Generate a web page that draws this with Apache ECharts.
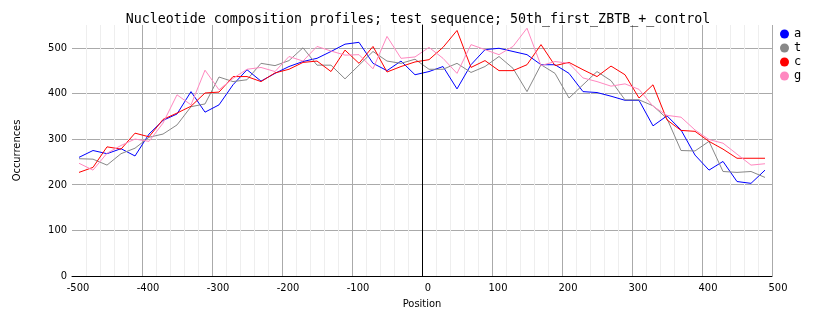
<!DOCTYPE html>
<html>
<head>
<meta charset="utf-8">
<script src="https://cdn.jsdelivr.net/npm/echarts@6/dist/echarts.min.js"></script>
<style>
  html, body { margin: 0; padding: 0; background: #ffffff; }
  #chart { width: 828px; height: 328px; }
</style>
</head>
<body>
<div id="chart"></div>
<script>
// Window positions (bp, centre of each 20 bp bin)
const positions = [
  -490, -470, -450, -430, -410, -390, -370, -350, -330, -310,
  -290, -270, -250, -230, -210, -190, -170, -150, -130, -110,
  -90, -70, -50, -30, -10, 10, 30, 50, 70, 90,
  110, 130, 150, 170, 190, 210, 230, 250, 270, 290,
  310, 330, 350, 370, 390, 410, 430, 450, 470, 490
];

// Occurrences per nucleotide
const countA = [
  260, 275, 268, 279, 263, 311, 341, 355, 404, 359,
  375, 419, 452, 427, 444, 459, 470, 477, 492, 508,
  512, 466, 450, 471, 441, 448, 459, 410, 463, 496,
  499, 492, 485, 463, 463, 444, 404, 402, 394, 385,
  385, 329, 351, 320, 265, 232, 251, 207, 203, 232
];
const countT = [
  257, 256, 243, 268, 280, 304, 311, 331, 371, 377,
  436, 426, 430, 466, 461, 472, 500, 462, 462, 432,
  462, 492, 471, 466, 475, 453, 453, 466, 446, 459,
  481, 455, 404, 463, 444, 390, 419, 448, 428, 386,
  386, 373, 345, 275, 274, 295, 229, 227, 229, 216
];
const countC = [
  227, 238, 283, 278, 313, 305, 343, 357, 372, 401,
  403, 437, 437, 426, 445, 453, 468, 471, 448, 495,
  466, 503, 447, 459, 469, 474, 501, 538, 457, 472,
  450, 450, 463, 507, 461, 468, 452, 437, 460, 441,
  390, 419, 342, 319, 317, 295, 278, 258, 258, 258
];
const countG = [
  247, 232, 269, 286, 300, 295, 335, 397, 375, 451,
  408, 433, 453, 457, 448, 481, 471, 503, 493, 484,
  485, 454, 525, 477, 480, 501, 477, 444, 507, 496,
  485, 503, 543, 461, 470, 466, 434, 426, 416, 421,
  409, 372, 352, 348, 320, 299, 291, 267, 243, 246
];

const seriesNames = ['a', 't', 'c', 'g'];
const seriesColors = ['#0000ff', '#888888', '#ff0000', '#ff88c0'];
const seriesValues = [countA, countT, countC, countG];

const labelFont = "'DejaVu Sans Condensed', 'DejaVu Sans Mono', monospace";

const chart = echarts.init(document.getElementById('chart'), null, { renderer: 'canvas' });

const series = seriesNames.map((name, k) => ({
  name: name,
  type: 'line',
  data: positions.map((p, i) => [p, seriesValues[k][i]]),
  showSymbol: false,
  symbol: 'circle',
  lineStyle: { width: 1, color: seriesColors[k] },
  itemStyle: { color: seriesColors[k] },
  emphasis: { disabled: true },
  animation: false
}));

// Vertical reference line at position 0
series[0].markLine = {
  silent: true,
  symbol: ['none', 'none'],
  label: { show: false },
  lineStyle: { color: '#000000', width: 1, type: 'solid' },
  data: [{ xAxis: 0 }],
  animation: false
};

chart.setOption({
  backgroundColor: '#ffffff',
  animation: false,
  title: {
    text: 'Nucleotide composition profiles; test sequence; 50th_first_ZBTB_+_control',
    left: 413,
    textAlign: 'center',
    top: 8,
    textStyle: {
      fontFamily: "'DejaVu Sans Mono', 'Liberation Mono', monospace",
      fontSize: 13.3,
      fontWeight: 'normal',
      color: '#000000'
    }
  },
  legend: {
    orient: 'vertical',
    left: 775,
    top: 23,
    itemGap: 2,
    itemWidth: 9,
    itemHeight: 9,
    icon: 'circle',
    data: seriesNames,
    textStyle: {
      fontFamily: "'DejaVu Sans Mono', monospace",
      fontSize: 12,
      color: '#000000'
    },
    itemStyle: { borderWidth: 0 },
    lineStyle: { width: 0 }
  },
  grid: {
    left: 72,
    right: 56,
    top: 25,
    bottom: 52,
    containLabel: false
  },
  xAxis: {
    type: 'value',
    min: -500,
    max: 500,
    interval: 100,
    name: 'Position',
    nameLocation: 'middle',
    nameGap: 22,
    nameTextStyle: { fontFamily: labelFont, fontSize: 11, color: '#000000' },
    axisLine: { show: true, onZero: false, lineStyle: { color: '#000000', width: 1 } },
    axisTick: { show: false },
    axisLabel: {
      fontFamily: labelFont,
      fontSize: 11,
      color: '#000000',
      margin: 7,
      padding: [0, 0, 0, 12]
    },
    splitLine: { show: true, showMinLine: false, lineStyle: { color: '#aaaaaa', width: 1 } },
    minorTick: { show: false, splitNumber: 5 },
    minorSplitLine: { show: true, lineStyle: { color: '#eeeeee', width: 1 } }
  },
  yAxis: {
    type: 'value',
    min: 0,
    max: 550,
    interval: 100,
    name: 'Occurrences',
    nameLocation: 'middle',
    nameGap: 49,
    nameRotate: 90,
    nameTextStyle: { fontFamily: labelFont, fontSize: 11, color: '#000000' },
    axisLine: { show: true, lineStyle: { color: '#000000', width: 1 } },
    axisTick: { show: false },
    axisLabel: {
      fontFamily: labelFont,
      fontSize: 11,
      color: '#000000',
      margin: 5,
      showMaxLabel: false
    },
    splitLine: { show: true, showMinLine: false, showMaxLine: false, lineStyle: { color: '#aaaaaa', width: 1 } }
  },
  series: series
});
</script>
</body>
</html>
